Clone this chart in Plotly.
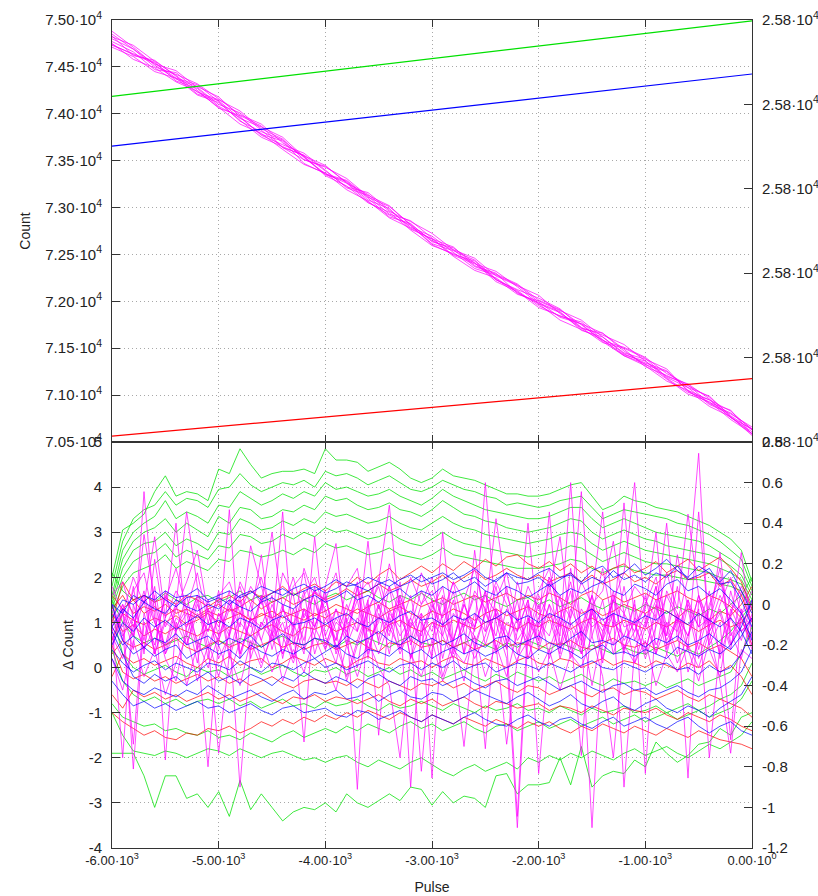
import plotly.graph_objects as go

# ---------------- data ----------------
PULSE_TOP = list(range(-6000, 1, 200))
PULSE_BOT = list(range(-6000, 1, 100))
FIT_PULSE = [-6000, 0]

COUNT_MAGENTA = [
    [74850, 74690, 74530, 74460, 74280, 74100, 74010, 73830, 73640, 73560, 73390, 73220, 73160, 72980, 72790, 72695, 72520, 72350, 72280, 72175, 71994, 71830, 71760, 71660, 71470, 71323, 71250, 71080, 70900, 70800, 70660],
    [74740, 74630, 74540, 74380, 74310, 74130, 73920, 73810, 73720, 73530, 73350, 73280, 73100, 72900, 72830, 72635, 72570, 72410, 72230, 72125, 72034, 71920, 71720, 71560, 71500, 71393, 71190, 71080, 70990, 70770, 70590],
    [74880, 74710, 74520, 74370, 74290, 74180, 73970, 73770, 73670, 73580, 73400, 73210, 73130, 73020, 72810, 72615, 72540, 72440, 72240, 72075, 72004, 71900, 71800, 71620, 71440, 71343, 71260, 71050, 70950, 70830, 70630],
    [74710, 74610, 74450, 74380, 74200, 74120, 73930, 73750, 73650, 73550, 73340, 73230, 73050, 72950, 72760, 72595, 72510, 72410, 72210, 72105, 71934, 71850, 71760, 71570, 71420, 71333, 71170, 71010, 70930, 70740, 70590],
    [74820, 74730, 74560, 74410, 74230, 74150, 74030, 73840, 73730, 73510, 73430, 73310, 73120, 72930, 72860, 72675, 72490, 72400, 72320, 72155, 71974, 71880, 71720, 71640, 71540, 71363, 71200, 71120, 70960, 70760, 70640],
    [74770, 74660, 74470, 74440, 74250, 74060, 73980, 73870, 73640, 73510, 73440, 73270, 73080, 72990, 72770, 72665, 72580, 72380, 72300, 72085, 71984, 71890, 71690, 71620, 71450, 71383, 71280, 71040, 70920, 70840, 70580],
    [74830, 74620, 74570, 74400, 74210, 74140, 73950, 73860, 73750, 73540, 73360, 73290, 73110, 73010, 72820, 72645, 72550, 72460, 72270, 72165, 72064, 71870, 71710, 71660, 71490, 71303, 71210, 71100, 70980, 70780, 70630],
    [74750, 74580, 74490, 74340, 74240, 74070, 73890, 73790, 73620, 73460, 73370, 73190, 73070, 72890, 72780, 72665, 72480, 72330, 72250, 72095, 71974, 71800, 71700, 71590, 71420, 71313, 71150, 71050, 70880, 70770, 70570],
    [74800, 74690, 74500, 74420, 74320, 74160, 73990, 73890, 73690, 73550, 73450, 73260, 73140, 72960, 72850, 72725, 72550, 72370, 72290, 72185, 72014, 71910, 71750, 71580, 71510, 71403, 71230, 71110, 70910, 70810, 70640],
    [74730, 74640, 74550, 74350, 74270, 74080, 73960, 73780, 73710, 73470, 73360, 73260, 73060, 72920, 72810, 72605, 72500, 72430, 72230, 72115, 71954, 71840, 71780, 71590, 71430, 71363, 71180, 71030, 70950, 70760, 70610],
]

FIT_GREEN = [25799.819, 25799.998]
FIT_BLUE = [25799.701, 25799.872]
FIT_RED = [25799.014, 25799.150]

DELTA_GREEN = [
    [2.0, 3.05, 3.2, 3.4, 3.9, 4.25, 3.8, 3.9, 3.85, 3.7,
     4.4, 4.3, 4.85, 4.5, 4.2, 4.3, 4.35, 4.35, 4.4, 4.3,
     4.85, 4.6, 4.6, 4.55, 4.35, 4.45, 4.55, 4.4, 4.2, 4.1,
     4.2, 4.4, 4.25, 4.2, 4.15, 4.05, 3.95, 3.85, 3.85, 3.8,
     3.8, 3.85, 3.95, 4.05, 4.1, 3.8, 3.5, 3.6, 3.8, 3.7,
     3.65, 3.55, 3.5, 3.45, 3.35, 3.25, 3.15, 3.0, 2.85, 2.6,
     1.9],
    [1.8, 2.8, 3.3, 3.5, 3.6, 3.9, 3.6, 3.75, 3.7, 3.55,
     3.95, 4.0, 4.3, 4.05, 3.9, 4.0, 4.1, 4.05, 4.15, 4.0,
     4.35, 4.25, 4.3, 4.2, 4.05, 4.15, 4.25, 4.1, 3.95, 3.9,
     4.0, 4.15, 4.05, 3.95, 3.9, 3.8, 3.75, 3.6, 3.65, 3.6,
     3.55, 3.6, 3.7, 3.75, 3.8, 3.55, 3.3, 3.4, 3.5, 3.45,
     3.4, 3.35, 3.3, 3.2, 3.15, 3.05, 2.95, 2.8, 2.6, 2.4,
     1.8],
    [1.6, 2.6, 3.0, 3.2, 3.35, 3.7, 3.3, 3.45, 3.35, 3.2,
     3.6, 3.55, 3.9, 3.75, 3.6, 3.7, 3.85, 3.75, 3.9, 3.8,
     4.1, 3.95, 4.0, 3.9, 3.8, 3.85, 3.95, 3.8, 3.7, 3.6,
     3.75, 3.95, 3.8, 3.7, 3.6, 3.5, 3.45, 3.4, 3.35, 3.3,
     3.3, 3.35, 3.45, 3.55, 3.55, 3.3, 3.1, 3.2, 3.3, 3.2,
     3.1, 3.0, 2.95, 2.9, 2.85, 2.8, 2.7, 2.55, 2.4, 2.2,
     1.7],
    [1.5, 2.4, 2.8, 3.0, 3.1, 3.3, 3.0, 3.2, 3.05, 2.9,
     3.35, 3.2, 3.55, 3.5, 3.3, 3.35, 3.5, 3.45, 3.6, 3.5,
     3.8, 3.7, 3.75, 3.6, 3.5, 3.55, 3.65, 3.5, 3.45, 3.35,
     3.5, 3.7, 3.55, 3.4, 3.35, 3.25, 3.2, 3.1, 3.05, 3.0,
     3.05, 3.1, 3.2, 3.3, 3.25, 3.0, 2.85, 2.95, 3.05, 2.95,
     2.85, 2.8, 2.7, 2.65, 2.6, 2.55, 2.5, 2.4, 2.25, 2.05,
     1.6],
    [1.4, 2.2, 2.6, 2.75, 2.8, 3.0, 2.7, 2.85, 2.75, 2.6,
     3.0, 2.95, 3.3, 3.2, 3.05, 3.1, 3.25, 3.15, 3.3, 3.2,
     3.45, 3.35, 3.4, 3.3, 3.2, 3.25, 3.35, 3.2, 3.1, 3.05,
     3.2, 3.35, 3.2, 3.1, 3.05, 2.95, 2.9, 2.85, 2.8, 2.75,
     2.8, 2.85, 2.95, 3.0, 2.95, 2.75, 2.6, 2.7, 2.8, 2.7,
     2.6, 2.55, 2.5, 2.45, 2.4, 2.35, 2.3, 2.2, 2.1, 1.95,
     1.5],
    [1.3, 2.0, 2.35, 2.5, 2.55, 2.75, 2.45, 2.6, 2.5, 2.4,
     2.7, 2.65, 2.95, 2.9, 2.75, 2.8, 2.95, 2.85, 3.0, 2.9,
     3.1, 3.0, 3.05, 2.95, 2.85, 2.9, 3.0, 2.85, 2.75, 2.7,
     2.85, 3.0, 2.85, 2.75, 2.7, 2.65, 2.6, 2.55, 2.5, 2.45,
     2.5, 2.55, 2.6, 2.7, 2.65, 2.5, 2.35, 2.45, 2.55, 2.45,
     2.35, 2.3, 2.3, 2.25, 2.2, 2.15, 2.1, 2.0, 1.95, 1.85,
     1.4],
    [1.2, 1.8, 2.1, 2.2, 2.3, 2.5, 2.2, 2.35, 2.25, 2.15,
     2.4, 2.35, 2.6, 2.55, 2.45, 2.5, 2.6, 2.5, 2.65, 2.55,
     2.75, 2.65, 2.7, 2.6, 2.5, 2.55, 2.65, 2.5, 2.45, 2.4,
     2.5, 2.65, 2.5, 2.45, 2.4, 2.35, 2.3, 2.25, 2.2, 2.2,
     2.2, 2.25, 2.3, 2.4, 2.35, 2.2, 2.1, 2.2, 2.25, 2.15,
     2.1, 2.05, 2.05, 2.0, 1.95, 1.95, 1.9, 1.85, 1.8, 1.7,
     1.3],
    [2.1, 1.7, 1.5, 1.6, 1.45, 1.65, 1.5, 1.4, 1.55, 1.6,
     1.45, 1.55, 1.7, 1.5, 1.6, 1.45, 1.55, 1.65, 1.5, 1.4,
     1.55, 1.65, 1.5, 1.6, 1.7, 1.55, 1.45, 1.6, 1.5, 1.65,
     1.5, 1.4, 1.55, 1.65, 1.5, 1.6, 1.45, 1.35, 1.5, 1.55,
     1.4, 1.5, 1.35, 1.45, 1.55, 1.4, 1.3, 1.45, 1.35, 1.25,
     1.4, 1.3, 1.2, 1.35, 1.25, 1.15, 1.3, 1.2, 1.4, 1.6,
     2.0],
    [1.5, 1.0, 0.7, 0.55, 0.65, 0.5, 0.6, 0.7, 0.55, 0.45,
     0.6, 0.5, 0.65, 0.55, 0.45, 0.6, 0.7, 0.55, 0.5, 0.65,
     0.55, 0.45, 0.6, 0.5, 0.65, 0.55, 0.45, 0.6, 0.7, 0.55,
     0.5, 0.6, 0.45, 0.55, 0.65, 0.5, 0.4, 0.55, 0.45, 0.6,
     0.5, 0.4, 0.55, 0.45, 0.35, 0.5, 0.4, 0.3, 0.45, 0.35,
     0.3, 0.45, 0.35, 0.25, 0.4, 0.3, 0.45, 0.6, 0.8, 1.1,
     1.4],
    [1.2, 0.3, 0.0, -0.15, -0.05, 0.05, -0.1, -0.2, 0.0, -0.1,
     -0.05, -0.2, -0.1, 0.0, -0.15, -0.05, 0.05, -0.1, -0.2, -0.05,
     -0.1, 0.0, -0.15, -0.05, -0.2, -0.1, 0.0, -0.15, -0.05, -0.2,
     -0.1, -0.25, -0.15, -0.05, -0.2, -0.3, -0.15, -0.25, -0.1, -0.2,
     -0.3, -0.2, -0.35, -0.25, -0.15, -0.3, -0.4, -0.25, -0.35, -0.3,
     -0.4, -0.3, -0.45, -0.35, -0.25, -0.4, -0.3, -0.2, -0.1, 0.3,
     0.9],
    [0.4, -0.3, -0.6, -0.75, -0.65, -0.8, -0.7, -0.85, -0.75, -0.7,
     -0.8, -0.7, -0.85, -0.75, -0.9, -0.8, -0.7, -0.85, -0.8, -0.9,
     -0.75, -0.85, -0.8, -0.7, -0.85, -0.95, -0.8, -0.9, -0.85, -0.75,
     -0.85, -0.95, -0.8, -0.9, -1.0, -0.85, -0.95, -0.9, -0.8, -0.95,
     -0.9, -1.0, -0.85, -0.95, -1.05, -0.9, -1.0, -0.95, -0.85, -1.0,
     -0.95, -0.85, -1.0, -0.9, -0.8, -0.95, -0.85, -0.7, -0.6, -0.4,
     0.1],
    [-0.8, -1.1, -1.2, -1.3, -1.25, -1.4, -1.35, -1.45, -1.5, -1.4,
     -1.55, -1.5, -1.6, -1.45, -1.55, -1.65, -1.5, -1.4, -1.55, -1.45,
     -1.35, -1.45, -1.3, -1.4, -1.25, -1.35, -1.45, -1.3, -1.2, -1.35,
     -1.25, -1.4, -1.3, -1.2, -1.35, -1.45, -1.3, -1.25, -1.4, -1.3,
     -1.2, -1.35, -1.25, -1.15, -1.3, -1.2, -1.1, -1.25, -1.15, -1.05,
     -1.2, -1.1, -1.0, -1.15, -1.05, -0.95, -1.1, -1.0, -0.9, -0.7,
     -0.3],
    [-1.0, -1.5, -1.85, -1.9, -1.95, -1.85, -1.9, -2.0, -1.9, -1.8,
     -1.85, -1.95, -1.8, -1.9, -2.0, -1.9, -1.85, -1.95, -2.05, -2.0,
     -2.1, -2.0, -1.95, -2.1, -2.2, -2.05, -2.15, -2.25, -2.1, -2.0,
     -2.15, -2.3, -2.4, -2.25, -2.15, -2.3, -2.2, -2.1, -2.25, -2.0,
     -2.1, -1.95, -2.05, -1.9, -2.0, -1.85, -1.95, -2.05, -1.9, -1.8,
     -1.95, -1.85, -1.75, -1.9, -2.0, -1.85, -1.7, -1.8, -1.65, -1.5,
     -1.2],
    [-1.9, -1.9, -1.9, -2.4, -3.1, -2.4, -2.4, -2.9, -2.8, -3.1,
     -2.75, -3.3, -2.5, -3.15, -2.8, -3.1, -3.4, -3.2, -3.1, -3.15,
     -3.0, -3.2, -2.8, -3.0, -3.1, -2.95, -2.8, -2.95, -2.65, -2.7,
     -3.05, -2.75, -3.0, -2.85, -2.9, -3.1, -2.4, -2.35, -2.8, -2.6,
     -2.6, -2.55, -2.0, -2.6, -1.75, -2.65, -2.4, -2.3, -2.35, -2.05,
     -2.2, -1.65, -1.9, -2.1, -1.95, -1.7, -1.65, -1.35, -1.5, -1.1,
     -1.0],
]

DELTA_RED = [
    [1.0, 1.9, 1.5, 1.6, 1.45, 1.55, 1.4, 1.6, 1.5, 1.35,
     1.5, 1.6, 1.45, 1.7, 1.55, 1.65, 1.8, 1.6, 1.75, 1.85,
     1.7, 1.9, 1.8, 2.0, 1.85, 2.05, 2.2, 1.95, 2.1, 2.25,
     2.1, 2.3, 2.15, 2.35, 2.2, 2.4, 2.25, 2.45, 2.5, 2.3,
     2.2, 2.35, 2.15, 2.3, 2.1, 2.25, 2.05, 2.2, 2.3, 2.1,
     2.2, 2.35, 2.1, 2.25, 2.4, 2.15, 2.3, 2.45, 2.2, 1.9,
     1.3],
    [1.3, 1.6, 1.2, 1.35, 1.25, 1.4, 1.2, 1.3, 1.15, 1.3,
     1.4, 1.25, 1.35, 1.5, 1.3, 1.45, 1.55, 1.4, 1.5, 1.65,
     1.5, 1.6, 1.75, 1.6, 1.7, 1.85, 1.7, 1.8, 1.95, 1.8,
     1.9, 2.05, 1.85, 2.0, 2.15, 1.95, 2.05, 2.2, 2.05, 1.95,
     2.05, 1.9, 2.0, 2.1, 1.9, 2.05, 1.85, 1.95, 2.1, 1.9,
     2.0, 1.85, 2.05, 2.15, 1.95, 2.0, 2.1, 1.8, 1.95, 1.6,
     1.0],
    [0.6, 1.2, 1.05, 0.95, 1.1, 1.0, 1.15, 0.95, 1.05, 1.2,
     1.0, 1.1, 1.2, 1.05, 1.15, 1.25, 1.1, 1.2, 1.3, 1.15,
     1.25, 1.4, 1.3, 1.2, 1.35, 1.45, 1.3, 1.4, 1.5, 1.35,
     1.45, 1.55, 1.4, 1.5, 1.6, 1.45, 1.55, 1.65, 1.5, 1.6,
     1.5, 1.65, 1.55, 1.4, 1.6, 1.7, 1.5, 1.6, 1.45, 1.55,
     1.65, 1.5, 1.6, 1.7, 1.55, 1.45, 1.6, 1.5, 1.35, 1.1,
     0.5],
    [1.2, 0.8, 0.95, 0.7, 0.85, 0.75, 0.9, 0.8, 0.7, 0.85,
     0.75, 0.9, 0.8, 0.7, 0.85, 0.95, 0.8, 0.7, 0.9, 0.85,
     0.95, 0.8, 0.9, 1.0, 0.85, 0.75, 0.95, 1.05, 0.9, 0.8,
     1.0, 0.9, 1.05, 0.95, 0.85, 1.0, 1.1, 0.95, 0.85, 1.0,
     0.9, 1.05, 0.95, 0.85, 1.0, 1.1, 0.95, 0.9, 1.05, 0.95,
     0.85, 1.0, 0.9, 1.05, 0.95, 0.8, 0.95, 1.05, 0.9, 1.0,
     1.3],
    [0.3, 0.6, 0.45, 0.55, 0.4, 0.5, 0.65, 0.45, 0.35, 0.5,
     0.6, 0.45, 0.55, 0.4, 0.5, 0.6, 0.45, 0.55, 0.4, 0.5,
     0.55, 0.4, 0.5, 0.6, 0.45, 0.35, 0.55, 0.5, 0.6, 0.45,
     0.5, 0.6, 0.45, 0.55, 0.4, 0.5, 0.6, 0.45, 0.55, 0.5,
     0.4, 0.55, 0.5, 0.6, 0.45, 0.4, 0.55, 0.65, 0.5, 0.45,
     0.55, 0.4, 0.5, 0.6, 0.45, 0.55, 0.4, 0.5, 0.35, 0.2,
     -0.2],
    [-0.2, 0.3, 0.1, 0.2, 0.05, 0.15, 0.25, 0.1, 0.0, 0.2,
     0.1, 0.25, 0.05, 0.15, 0.2, 0.0, 0.1, 0.25, 0.15, 0.05,
     0.2, 0.1, 0.0, 0.15, 0.25, 0.1, 0.05, 0.2, 0.1, 0.15,
     0.0, 0.15, 0.25, 0.1, 0.05, 0.2, 0.1, 0.0, 0.15, 0.25,
     0.1, 0.05, 0.2, 0.15, 0.0, 0.1, 0.2, 0.05, 0.15, 0.1,
     0.0, 0.15, 0.05, -0.05, 0.1, 0.0, 0.15, -0.1, 0.05, -0.2,
     -0.6],
    [0.5, -0.1, -0.25, -0.15, -0.3, -0.2, -0.35, -0.25, -0.15, -0.3,
     -0.2, -0.35, -0.25, -0.4, -0.3, -0.2, -0.35, -0.45, -0.3, -0.25,
     -0.35, -0.3, -0.4, -0.25, -0.35, -0.45, -0.3, -0.4, -0.5, -0.35,
     -0.4, -0.3, -0.45, -0.35, -0.5, -0.4, -0.3, -0.45, -0.55, -0.4,
     -0.45, -0.6, -0.5, -0.4, -0.55, -0.65, -0.5, -0.45, -0.6, -0.5,
     -0.55, -0.7, -0.6, -0.5, -0.65, -0.75, -0.6, -0.7, -0.8, -0.9,
     -1.1],
    [-0.6, -0.9, -0.5, -0.65, -0.55, -0.7, -0.6, -0.75, -0.65, -0.55,
     -0.7, -0.6, -0.75, -0.65, -0.55, -0.7, -0.8, -0.65, -0.7, -0.6,
     -0.75, -0.65, -0.7, -0.8, -0.7, -0.6, -0.75, -0.85, -0.7, -0.8,
     -0.7, -0.85, -0.75, -0.65, -0.8, -0.9, -0.75, -0.8, -0.9, -0.85,
     -0.8, -0.95, -0.85, -0.9, -1.0, -0.85, -0.95, -1.05, -0.9, -0.95,
     -1.0, -0.9, -1.05, -1.15, -1.0, -1.1, -1.2, -1.05, -1.15, -1.3,
     -1.4],
    [-1.0, -1.2, -1.35, -1.5, -1.4, -1.55, -1.6, -1.45, -1.5, -1.35,
     -1.4, -1.3, -1.45, -1.35, -1.2, -1.3, -1.15, -1.25, -1.1, -1.2,
     -1.05, -1.15, -1.0, -1.1, -0.95, -1.05, -1.15, -1.0, -1.1, -1.2,
     -1.05, -1.15, -1.25, -1.1, -1.2, -1.3, -1.15, -1.25, -1.35, -1.2,
     -1.3, -1.2, -1.35, -1.45, -1.3, -1.4, -1.25, -1.35, -1.45, -1.3,
     -1.4, -1.5, -1.35, -1.45, -1.55, -1.4, -1.5, -1.6, -1.65, -1.7,
     -1.8],
    [1.6, 1.3, 1.5, 1.2, 1.35, 1.15, 1.3, 1.2, 1.1, 1.25,
     1.15, 1.3, 1.2, 1.05, 1.2, 1.1, 1.25, 1.15, 1.05, 1.2,
     1.1, 1.25, 1.15, 1.3, 1.2, 1.1, 1.25, 1.35, 1.2, 1.1,
     1.25, 1.15, 1.3, 1.2, 1.05, 1.2, 1.3, 1.15, 1.25, 1.35,
     1.2, 1.1, 1.25, 1.35, 1.2, 1.3, 1.15, 1.25, 1.4, 1.3,
     1.2, 1.35, 1.25, 1.1, 1.3, 1.2, 1.05, 1.25, 1.15, 1.4,
     1.8],
]

DELTA_BLUE = [
    [1.1, 1.5, 1.4, 1.6, 1.5, 1.7, 1.55, 1.6, 1.75, 1.5,
     1.6, 1.7, 1.55, 1.65, 1.8, 1.7, 1.6, 1.75, 1.85, 1.7,
     1.8, 1.95, 1.8, 1.85, 2.0, 1.9, 1.8, 1.95, 2.05, 1.9,
     2.0, 2.1, 1.95, 2.05, 2.2, 2.0, 1.9, 2.1, 2.0, 1.95,
     2.1, 2.2, 2.0, 2.05, 1.9, 2.15, 2.25, 2.0, 2.1, 2.3,
     2.05, 2.2, 2.4, 2.15, 2.0, 2.25, 2.1, 1.9, 2.15, 1.7,
     1.2],
    [1.4, 1.2, 1.6, 1.45, 1.7, 1.5, 1.35, 1.55, 1.6, 1.45,
     1.55, 1.4, 1.6, 1.7, 1.5, 1.65, 1.75, 1.6, 1.7, 1.8,
     1.65, 1.75, 1.9, 1.8, 1.7, 1.85, 1.95, 1.8, 1.9, 2.05,
     1.85, 1.95, 2.1, 1.9, 2.0, 1.8, 1.95, 2.1, 1.85, 1.9,
     2.0, 1.8, 1.95, 2.1, 1.85, 2.0, 1.9, 2.15, 1.95, 2.05,
     1.9, 2.1, 2.0, 2.25, 1.95, 2.05, 2.2, 1.85, 1.9, 1.5,
     0.9],
    [0.9, 1.3, 1.1, 1.45, 1.3, 1.2, 1.5, 1.35, 1.25, 1.4,
     1.3, 1.5, 1.35, 1.25, 1.45, 1.55, 1.4, 1.3, 1.5, 1.6,
     1.45, 1.55, 1.7, 1.5, 1.6, 1.45, 1.65, 1.75, 1.55, 1.7,
     1.6, 1.8, 1.65, 1.75, 1.9, 1.7, 1.6, 1.8, 1.7, 1.55,
     1.7, 1.85, 1.6, 1.75, 1.65, 1.8, 1.9, 1.7, 1.6, 1.85,
     1.75, 1.6, 1.85, 1.95, 1.7, 1.8, 1.6, 1.75, 1.5, 1.2,
     0.6],
    [0.5, 1.0, 0.8, 1.1, 0.9, 1.05, 0.85, 1.0, 1.15, 0.95,
     1.05, 0.9, 1.1, 1.0, 0.85, 1.05, 1.15, 0.95, 1.0, 1.1,
     0.95, 1.1, 1.2, 1.0, 0.9, 1.1, 1.0, 1.15, 1.25, 1.05,
     1.1, 0.95, 1.15, 1.05, 1.2, 1.0, 1.1, 1.25, 1.05, 1.15,
     1.0, 1.2, 1.1, 0.95, 1.15, 1.3, 1.05, 1.2, 1.1, 1.0,
     1.15, 1.05, 1.25, 1.1, 0.95, 1.2, 1.05, 0.9, 1.1, 0.8,
     0.3],
    [0.9, 0.5, 0.7, 0.45, 0.65, 0.55, 0.75, 0.5, 0.6, 0.7,
     0.5, 0.65, 0.55, 0.7, 0.45, 0.6, 0.75, 0.55, 0.5, 0.65,
     0.6, 0.45, 0.7, 0.55, 0.65, 0.8, 0.6, 0.5, 0.7, 0.55,
     0.65, 0.5, 0.6, 0.75, 0.55, 0.45, 0.65, 0.7, 0.5, 0.6,
     0.7, 0.55, 0.45, 0.65, 0.8, 0.55, 0.6, 0.5, 0.7, 0.6,
     0.45, 0.65, 0.55, 0.7, 0.5, 0.6, 0.75, 0.55, 0.4, 0.7,
     1.1],
    [1.4, 0.6, 0.3, 0.45, 0.25, 0.4, 0.5, 0.2, 0.35, 0.45,
     0.3, 0.4, 0.2, 0.5, 0.35, 0.25, 0.4, 0.3, 0.45, 0.2,
     0.35, 0.5, 0.3, 0.2, 0.4, 0.35, 0.25, 0.45, 0.3, 0.4,
     0.2, 0.35, 0.45, 0.3, 0.4, 0.25, 0.35, 0.5, 0.3, 0.2,
     0.4, 0.3, 0.45, 0.35, 0.2, 0.4, 0.5, 0.3, 0.35, 0.25,
     0.4, 0.3, 0.2, 0.45, 0.35, 0.25, 0.4, 0.3, 0.5, 0.9,
     1.5],
    [0.4, 0.1, -0.1, 0.05, 0.15, -0.05, 0.1, 0.0, -0.1, 0.1,
     0.05, -0.05, 0.15, 0.0, -0.1, 0.1, 0.05, -0.05, 0.1, 0.2,
     0.0, 0.1, -0.05, 0.05, 0.15, 0.0, -0.1, 0.05, 0.1, -0.05,
     0.1, 0.0, 0.15, -0.05, 0.05, 0.1, -0.1, 0.0, 0.1, 0.05,
     -0.05, 0.1, 0.0, -0.1, 0.05, 0.15, 0.0, -0.05, 0.1, 0.0,
     -0.1, 0.05, 0.1, -0.05, 0.0, -0.15, 0.05, -0.1, 0.0, 0.3,
     0.8],
    [0.2, -0.3, -0.5, -0.6, -0.45, -0.55, -0.65, -0.5, -0.6, -0.4,
     -0.55, -0.7, -0.6, -0.5, -0.65, -0.75, -0.6, -0.5, -0.7, -0.55,
     -0.6, -0.5, -0.7, -0.65, -0.55, -0.75, -0.6, -0.5, -0.65, -0.7,
     -0.55, -0.6, -0.75, -0.65, -0.5, -0.6, -0.7, -0.8, -0.65, -0.55,
     -0.7, -0.85, -0.75, -0.6, -0.8, -0.9, -0.75, -0.65, -0.85, -0.95,
     -0.8, -0.7, -0.9, -1.0, -0.85, -0.95, -1.1, -0.9, -0.75, -0.6,
     -0.2],
    [-0.3, -0.6, -0.85, -0.75, -0.9, -0.8, -0.95, -0.85, -0.75, -0.9,
     -0.85, -1.0, -0.9, -0.8, -0.95, -1.05, -0.9, -0.85, -1.0, -0.95,
     -0.9, -1.05, -1.1, -0.95, -1.0, -1.15, -1.05, -0.95, -1.1, -1.2,
     -1.05, -1.15, -1.25, -1.1, -1.0, -1.15, -1.25, -1.3, -1.15, -1.05,
     -1.2, -1.3, -1.15, -1.1, -1.25, -1.35, -1.2, -1.1, -1.3, -1.2,
     -1.1, -1.25, -1.35, -1.2, -1.1, -1.3, -1.45, -1.3, -1.2, -1.4,
     -1.5],
    [0.8, 0.3, -0.2, -0.35, -0.15, -0.3, -0.2, -0.4, -0.25, -0.1,
     -0.3, -0.2, -0.35, -0.15, -0.25, -0.4, -0.2, -0.3, -0.1, -0.25,
     -0.35, -0.2, -0.3, -0.45, -0.25, -0.15, -0.3, -0.4, -0.2, -0.3,
     -0.25, -0.4, -0.3, -0.2, -0.35, -0.45, -0.3, -0.25, -0.4, -0.3,
     -0.2, -0.35, -0.5, -0.4, -0.3, -0.45, -0.55, -0.4, -0.35, -0.5,
     -0.45, -0.6, -0.5, -0.4, -0.55, -0.65, -0.5, -0.45, -0.3, -0.1,
     0.4],
]

DELTA_MAGENTA = [
    [0.8, 1.2, 0.4, 3.9, 1.1, 0.2, -0.3, 0.9, 1.6, 1.3,
     0.2, 0.7, 1.9, 1.4, 0.6, -0.1, 0.5, 1.8, 2.1, 0.9,
     0.4, 1.3, 0.8, 0.0, 1.5, 2.0, 1.1, 0.3, 0.9, 1.7,
     1.2, -0.2, 0.6, 1.4, 0.8, 4.1, 1.0, 0.2, -3.55, 0.7,
     1.6, 1.1, 0.3, 2.2, 0.9, -0.4, 0.8, 1.5, 1.2, 0.1,
     0.9, 1.8, 0.5, 1.0, 2.0, 4.75, 0.4, -0.2, 1.3, 0.8,
     1.1],
    [1.2, 0.9, 1.7, 2.1, 1.0, 0.5, 1.4, 3.45, 1.8, 0.6,
     -0.2, 0.8, -2.65, 0.4, 1.6, 1.1, 0.3, 0.9, 2.2, 1.5,
     0.7, 0.1, 1.2, 1.9, 0.6, 1.0, 2.3, 1.4, 0.2, 0.8,
     1.3, 1.8, 0.5, -0.3, 0.9, 1.6, 1.2, 0.4, 1.9, 1.1,
     0.6, 2.0, 1.3, 0.2, 0.8, -3.55, 0.7, 1.5, 2.1, 4.1,
     1.0, 0.3, 1.7, 1.2, -0.1, 0.6, 1.4, 2.0, 0.8, 0.2,
     1.2],
    [0.5, 1.3, -2.25, 1.0, 0.4, 1.7, 0.8, 1.2, 0.1, 1.5,
     0.7, 3.5, 0.3, 1.1, 0.9, 1.6, 0.2, 1.3, 0.6, 1.8,
     0.4, 1.0, 0.8, 1.5, 0.3, 1.2, 0.7, 1.9, 0.5, 1.1,
     0.2, 3.0, 0.6, 1.4, 0.9, 1.7, 0.3, 1.0, 0.8, 1.5,
     0.4, 1.2, 0.7, 4.1, 0.5, 1.3, 0.1, 1.6, 0.9, 1.0,
     0.3, 1.4, 0.6, 1.1, -2.45, 1.5, 0.8, 1.2, 0.4, 1.7,
     1.0],
    [1.0, -2.0, 1.4, 0.6, 1.8, 0.3, 1.1, 0.9, 1.6, 0.4,
     1.2, 0.7, 1.5, 0.2, 1.0, 0.8, 3.45, 0.5, 1.3, 0.9,
     1.7, 0.3, 1.1, -2.7, 1.4, 0.6, 1.8, 0.4, 1.0, 0.7,
     1.5, 0.2, 1.2, 0.9, 1.6, 0.5, 1.3, 0.8, 0.1, 1.4,
     0.6, 1.9, 0.4, 1.1, 3.9, 0.7, 1.5, 0.3, 1.2, 0.8,
     1.6, 0.5, 1.0, 0.3, 1.4, 0.9, 1.7, 0.2, 1.1, 2.55,
     0.6],
    [0.9, 1.4, 0.7, 2.95, 1.5, 0.3, 0.8, -0.4, 0.5, -2.2,
     0.6, 1.3, 1.8, 1.0, 0.1, 0.7, 2.1, 1.6, 0.4, 0.9,
     1.5, 0.8, -0.3, 0.5, 1.2, 1.9, 3.6, 1.1, 0.6, 1.4,
     2.0, 1.0, 0.2, 0.9, 1.7, 1.3, 0.5, -0.2, 0.8, 1.5,
     -2.35, 0.4, 1.1, 1.9, 0.7, 1.2, 2.2, 0.9, 3.65, 1.0,
     0.2, 0.9, 1.6, 1.1, 0.4, -0.3, 0.6, 1.4, 2.0, 1.2,
     1.4],
    [1.3, 0.7, 1.1, 0.4, 1.6, -2.05, 1.0, 0.5, 1.4, 0.8,
     1.7, 0.3, 1.2, 0.9, 1.5, 0.6, 1.0, 0.2, 1.3, 0.7,
     1.8, 2.75, 0.5, 1.1, 0.8, 1.4, 0.3, 1.6, 0.9, 1.2,
     -2.45, 1.0, 0.6, 1.5, 0.4, 1.2, 0.7, 1.8, 0.3, 1.1,
     0.9, 3.45, 0.5, 1.3, 0.8, 1.6, 0.2, 1.0, 0.7, 1.4,
     0.4, 1.2, 3.2, 0.6, 1.5, 0.9, 1.1, 0.3, 1.7, 0.8,
     1.1],
    [0.6, 1.4, 0.9, 1.7, 0.3, 1.1, 3.2, 0.7, 1.5, 0.2,
     1.2, 0.8, 1.6, 0.4, 1.0, 0.6, 1.3, 0.9, -1.65, 1.5,
     0.5, 1.1, 0.7, 1.8, 0.2, 1.4, 0.8, 1.2, -2.65, 1.0,
     0.6, 1.5, 0.3, 1.1, 0.9, 1.7, 0.4, 1.3, 0.8, 3.2,
     0.7, 1.4, 0.2, 1.0, 0.6, 1.6, 0.9, 1.2, 0.3, 1.5,
     -2.35, 1.1, 0.7, 1.8, 0.4, 3.45, 0.8, 1.3, 0.5, 1.0,
     0.7],
    [1.6, 1.9, 1.1, 0.4, 0.9, 1.5, 2.2, 1.3, 0.6, 0.0,
     0.7, 1.4, 0.9, 2.7, 1.8, 1.0, 0.3, 0.8, 1.6, 2.0,
     1.2, 0.5, -0.2, 0.6, 1.3, 1.8, 0.9, 0.4, 1.1, 2.1,
     1.5, 0.7, 0.2, -1.75, 0.5, 1.2, 1.9, 1.4, 0.6, 1.0,
     1.7, 2.2, 1.0, 0.3, 0.9, 1.6, 3.45, 1.1, 0.4, 0.8,
     1.4, 2.0, 0.9, 0.1, 0.7, 1.3, -2.0, 0.5, 1.2, 1.8,
     1.3],
    [0.4, 1.2, 0.7, 1.5, 0.3, 1.0, 0.8, 1.6, 0.5, 1.3,
     0.9, 1.7, 0.2, 1.1, 0.6, 1.4, 0.8, 1.0, 0.3, 2.9,
     0.7, 1.3, 0.5, 1.8, 0.4, 1.1, 0.9, 1.5, 0.2, 1.2,
     0.8, 1.6, 0.4, 1.0, 0.7, -1.8, 1.3, 0.6, -3.3, 1.1,
     0.5, 1.4, 0.9, 1.7, 0.3, 1.2, 0.8, 1.5, 0.6, 1.0,
     1.3, 3.0, 0.4, 1.1, 0.7, 1.6, 0.9, 2.55, 0.5, 1.2,
     0.9],
    [1.1, 0.6, 1.8, 0.3, 2.4, 0.9, 1.4, 0.5, 1.2, 0.8,
     1.5, 0.2, 1.0, 0.7, 1.6, 0.4, 1.3, 0.9, 1.7, 0.3,
     1.1, 0.6, 1.4, 0.8, 2.8, 0.5, 1.2, 0.9, 1.6, 0.4,
     1.0, 0.7, 1.5, 0.3, 1.2, 0.8, 1.8, 0.5, 1.1, 0.6,
     1.4, 0.2, 1.0, 0.8, -1.95, 1.3, 0.6, 1.7, 0.4, 1.1,
     0.9, 1.5, 0.3, 1.2, 0.7, 1.6, 0.5, 1.0, -1.6, 1.3,
     0.5],
    [0.7, 0.2, 0.9, 1.6, 1.0, 0.4, 1.3, 1.9, 2.6, 1.2,
     0.5, -0.2, 0.6, 1.4, 2.0, 1.1, 0.7, 0.1, 0.9, 1.7,
     1.3, 0.6, 1.8, 2.2, 0.9, 0.3, 1.0, 1.6, 0.8, -2.3,
     0.4, 1.2, 1.9, 0.8, 0.2, 0.7, 1.5, 2.1, 1.0, 0.5,
     1.1, 1.7, 2.9, 0.9, 0.3, 1.4, 0.6, 1.2, -2.65, 0.4,
     1.0, 1.8, 0.7, 2.5, 1.3, 0.2, 0.9, 1.6, 1.1, 0.6,
     1.5],
    [1.4, 0.8, -1.7, 1.2, 0.5, 1.6, 0.9, 1.3, 0.4, 1.0,
     0.6, 1.5, 0.3, 1.1, 2.5, 0.7, 1.4, 0.2, 1.2, 0.9,
     1.6, 0.4, 1.0, 0.8, 1.5, -1.5, 1.3, 0.7, 1.1, 0.5,
     1.4, 0.9, 1.7, 0.3, 2.6, 0.8, 1.2, 0.6, 1.5, 0.2,
     1.0, 0.7, 1.6, 0.4, 1.3, 0.9, 1.1, 0.5, 1.8, 0.6,
     1.2, 0.3, 1.0, 0.8, 1.5, 0.4, 1.3, 2.2, 0.7, 1.1,
     0.4],
    [0.2, -0.5, 0.6, -0.2, 0.4, -0.6, 0.1, 0.7, -0.3, 0.5,
     -1.9, 0.3, -0.4, 0.6, 0.0, 0.8, -0.3, 0.4, -0.1, 0.7,
     0.1, -0.5, 0.5, -0.2, 0.6, 0.0, -0.4, -2.0, 0.3, -0.2,
     0.6, -0.3, 0.4, 0.1, 0.7, -0.2, 0.5, -1.7, 0.2, 0.6,
     -0.1, 0.4, -0.5, 0.3, 0.0, 0.7, -0.2, -2.0, 0.5, 0.1,
     0.6, -0.4, 0.3, -0.1, 0.5, 0.0, 0.8, -0.3, -1.9, 0.4,
     0.2],
    [1.8, 1.2, 2.0, 1.4, 2.9, 1.1, 1.7, 1.3, 2.1, 1.0,
     1.6, 1.9, 1.2, 1.8, 1.4, 3.0, 1.3, 2.0, 1.1, 1.7,
     1.5, 2.1, 1.0, 1.6, 1.9, 1.3, 1.8, 1.2, 2.0, 1.4,
     1.7, 1.1, 1.9, 1.5, 2.2, 1.2, 3.3, 1.6, 1.0, 1.8,
     1.3, 2.0, 1.5, 1.1, 1.9, 1.4, 1.7, 2.8, 1.2, 1.8,
     1.5, 1.1, 2.1, 1.3, 3.4, 1.6, 1.0, 1.9, 1.4, 1.2,
     1.7],
]

X_TICKS = [-6000, -5000, -4000, -3000, -2000, -1000, 0]
X_TICK_TEXT = ["-6.00·10<sup>3</sup>", "-5.00·10<sup>3</sup>", "-4.00·10<sup>3</sup>",
               "-3.00·10<sup>3</sup>", "-2.00·10<sup>3</sup>", "-1.00·10<sup>3</sup>",
               "0.00·10<sup>0</sup>"]
Y1_TICKS = [70500, 71000, 71500, 72000, 72500, 73000, 73500, 74000, 74500, 75000]
Y1_TICK_TEXT = ["7.05·10<sup>4</sup>", "7.10·10<sup>4</sup>", "7.15·10<sup>4</sup>",
                "7.20·10<sup>4</sup>", "7.25·10<sup>4</sup>", "7.30·10<sup>4</sup>",
                "7.35·10<sup>4</sup>", "7.40·10<sup>4</sup>", "7.45·10<sup>4</sup>",
                "7.50·10<sup>4</sup>"]
Y2_TICKS = [25799.0, 25799.2, 25799.4, 25799.6, 25799.8, 25800.0]
Y2_TICK_TEXT = ["2.58·10<sup>4</sup>"] * 6
Y3_TICKS = [-4, -3, -2, -1, 0, 1, 2, 3, 4, 5]
Y3_TICK_TEXT = ["-4", "-3", "-2", "-1", "0", "1", "2", "3", "4", "5"]
Y4_TICKS = [-1.2, -1.0, -0.8, -0.6, -0.4, -0.2, 0.0, 0.2, 0.4, 0.6, 0.8]
Y4_TICK_TEXT = ["-1.2", "-1", "-0.8", "-0.6", "-0.4", "-0.2", "0", "0.2", "0.4", "0.6", "0.8"]

# ---------------- figure ----------------
fig = go.Figure()

C_GREEN = "rgba(0,225,0,0.75)"
C_RED = "rgba(255,0,0,0.7)"
C_BLUE = "rgba(0,0,255,0.7)"
C_MAG = "rgba(255,0,255,0.7)"

# top panel
for ys in COUNT_MAGENTA:
    fig.add_trace(go.Scatter(x=PULSE_TOP, y=ys, mode="lines", xaxis="x", yaxis="y",
                             line=dict(color="rgba(255,0,255,0.7)", width=1), hoverinfo="skip"))
fig.add_trace(go.Scatter(x=FIT_PULSE, y=FIT_GREEN, mode="lines", xaxis="x", yaxis="y2",
                         line=dict(color="#00e000", width=1.2)))
fig.add_trace(go.Scatter(x=FIT_PULSE, y=FIT_BLUE, mode="lines", xaxis="x", yaxis="y2",
                         line=dict(color="#0000ff", width=1.2)))
fig.add_trace(go.Scatter(x=FIT_PULSE, y=FIT_RED, mode="lines", xaxis="x", yaxis="y2",
                         line=dict(color="#ff0000", width=1.2)))

# bottom panel
for series, col in ((DELTA_GREEN, C_GREEN), (DELTA_RED, C_RED),
                    (DELTA_MAGENTA, C_MAG), (DELTA_BLUE, C_BLUE)):
    for ys in series:
        fig.add_trace(go.Scatter(x=PULSE_BOT, y=ys, mode="lines", xaxis="x2", yaxis="y3",
                                 line=dict(color=col, width=1), hoverinfo="skip"))
# invisible carrier for the right-hand axis of the lower panel
fig.add_trace(go.Scatter(x=FIT_PULSE, y=[Y4_TICKS[0], Y4_TICKS[-1]], mode="lines",
                         xaxis="x2", yaxis="y4", opacity=0, line=dict(width=0),
                         hoverinfo="skip"))

SPLIT = 406 / 828
LINE = "#333333"
GRID = "#a8a8a8"
DASH = "1px,3px"
YFONT = dict(family="Liberation Sans, Arial, sans-serif", size=15, color="#222")
TFONT = dict(family="Liberation Sans, Arial, sans-serif", size=14, color="#222")
XFONT = dict(family="Liberation Sans Narrow, Liberation Sans, Arial, sans-serif", size=13, color="#222")

common_x = dict(range=[-6000, 0], tickvals=X_TICKS, ticks="inside", ticklen=7,
                tickcolor=LINE, showline=True, linecolor=LINE, linewidth=1,
                mirror="ticks", showgrid=True, gridcolor=GRID, griddash=DASH,
                gridwidth=1, zeroline=False, automargin=False)

fig.update_layout(
    width=818, height=896,
    margin=dict(l=112, r=66, t=20, b=48),
    paper_bgcolor="white", plot_bgcolor="white",
    showlegend=False,
    font=YFONT,
    xaxis=dict(common_x, anchor="y", domain=[0, 1], showticklabels=False),
    xaxis2=dict(common_x, anchor="y3", domain=[0, 1], ticktext=X_TICK_TEXT,
                tickfont=XFONT, title=dict(text="Pulse", font=TFONT, standoff=15)),
    yaxis=dict(domain=[SPLIT, 1], anchor="x", range=[70500, 75000],
               tickvals=Y1_TICKS, ticktext=Y1_TICK_TEXT, ticks="inside", ticklen=8,
               tickcolor=LINE, showline=True, linecolor=LINE, linewidth=1, mirror=True,
               showgrid=True, gridcolor=GRID, griddash=DASH, zeroline=False,
               ticklabelstandoff=6, automargin=False, tickfont=YFONT,
               title=dict(text="Count", font=TFONT, standoff=11)),
    yaxis2=dict(overlaying="y", anchor="x", side="right", range=[25799.0, 25800.0],
                tickvals=Y2_TICKS, ticktext=Y2_TICK_TEXT, ticks="inside", ticklen=8,
                tickcolor=LINE, showline=False, showgrid=False, zeroline=False,
                ticklabelstandoff=9, automargin=False, tickfont=YFONT),
    yaxis3=dict(domain=[0, SPLIT], anchor="x2", range=[-4, 5],
                tickvals=Y3_TICKS, ticktext=Y3_TICK_TEXT, ticks="inside", ticklen=8,
                tickcolor=LINE, showline=True, linecolor=LINE, linewidth=1, mirror=True,
                showgrid=True, gridcolor=GRID, griddash=DASH, zeroline=False,
                ticklabelstandoff=6, automargin=False, tickfont=YFONT,
                title=dict(text="Δ Count", font=TFONT, standoff=11)),
    yaxis4=dict(overlaying="y3", anchor="x2", side="right", range=[-1.2, 0.8],
                tickvals=Y4_TICKS, ticktext=Y4_TICK_TEXT, ticks="inside", ticklen=8,
                tickcolor=LINE, showline=False, showgrid=False, zeroline=False,
                ticklabelstandoff=9, automargin=False, tickfont=YFONT),
)

fig.write_html("out.html", config={"displayModeBar": False},
               post_script="document.body.style.margin='0px';")
